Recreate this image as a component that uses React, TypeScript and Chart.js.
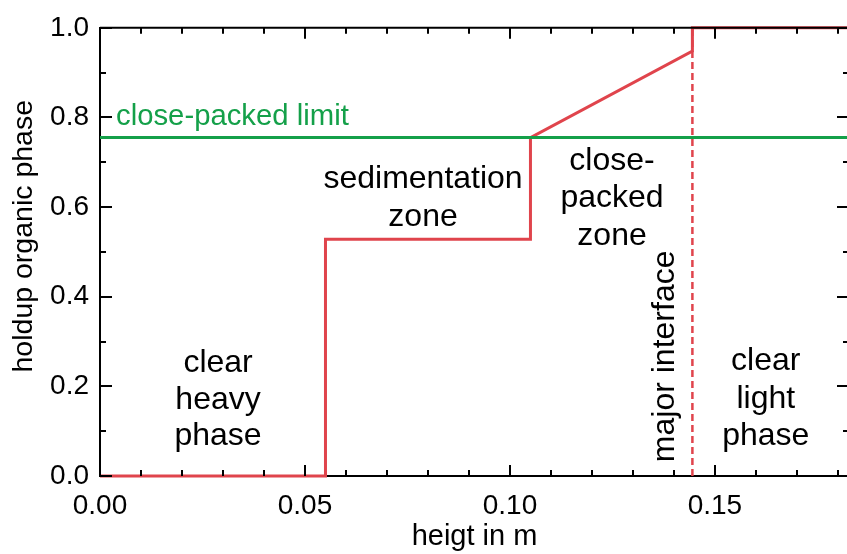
import React, { useEffect, useRef } from "react";
import { Chart, registerables } from "chart.js";

Chart.register(...registerables);

// ---- data ----
const X_MIN = 0;
const X_MAX = 0.1827;
const Y_MIN = 0;
const Y_MAX = 1.0;

const xTickValues = [0, 0.05, 0.1, 0.15];
const yTickValues = [0, 0.2, 0.4, 0.6, 0.8, 1.0];
const xMinorStep = 0.01;
const yMinorStep = 0.1;

const profileX = [0, 0.055, 0.055, 0.105, 0.105, 0.1445, 0.1445, 0.1827];
const profileY = [0, 0, 0.528, 0.528, 0.755, 0.948, 1.0, 1.0];

const interfaceX = [0.1445, 0.1445];
const interfaceY = [0, 1.0];

const limitX = [0, 0.1827];
const limitY = [0.755, 0.755];

const zoneLabels = [
  { lines: ["clear", "heavy", "phase"], x: 0.0288, y: [0.252, 0.17, 0.088] },
  { lines: ["sedimentation", "zone"], x: 0.0788, y: [0.662, 0.578] },
  { lines: ["close-", "packed", "zone"], x: 0.1249, y: [0.702, 0.62, 0.536] },
  { lines: ["clear", "light", "phase"], x: 0.1624, y: [0.256, 0.172, 0.088] },
];
const interfaceLabel = { text: "major interface", x: 0.1378, y: 0.267 };
const limitLabel = { text: "close-packed limit", x: 0.0039, y: 0.801 };
const yTitle = { text: "holdup organic phase", px: 24, y: 0.535 };

const RED = "#e0444c";
const GREEN = "#14a049";
const FONT = "'Liberation Sans', Arial, Helvetica, sans-serif";

const toPts = (xs: number[], ys: number[]) => xs.map((x, i) => ({ x, y: ys[i] }));

const framePlugin = {
  id: "frame",
  afterDraw(chart: any) {
    const { ctx, chartArea } = chart;
    const xs = chart.scales.x;
    const ys = chart.scales.y;
    ctx.save();
    ctx.strokeStyle = "#000";
    ctx.lineWidth = 2;
    ctx.beginPath();
    ctx.moveTo(chartArea.left, chartArea.top);
    ctx.lineTo(chartArea.right, chartArea.top);
    ctx.stroke();
    ctx.beginPath();
    ctx.moveTo(chartArea.right, chartArea.top);
    ctx.lineTo(chartArea.right, chartArea.bottom);
    ctx.stroke();
    const nX = Math.round((X_MAX - X_MIN) / xMinorStep);
    for (let i = 0; i <= nX; i++) {
      const v = X_MIN + i * xMinorStep;
      const major = i % 5 === 0;
      const len = major ? 11 : 6;
      const px = Math.round(xs.getPixelForValue(v));
      ctx.beginPath();
      ctx.moveTo(px, chartArea.bottom);
      ctx.lineTo(px, chartArea.bottom - len);
      ctx.moveTo(px, chartArea.top);
      ctx.lineTo(px, chartArea.top + len);
      ctx.stroke();
    }
    const nY = Math.round((Y_MAX - Y_MIN) / yMinorStep);
    for (let i = 0; i <= nY; i++) {
      const v = Y_MIN + i * yMinorStep;
      const major = i % 2 === 0;
      const len = major ? 12 : 6;
      const py = Math.round(ys.getPixelForValue(v));
      ctx.beginPath();
      ctx.moveTo(chartArea.left, py);
      ctx.lineTo(chartArea.left + len, py);
      ctx.moveTo(chartArea.right, py);
      ctx.lineTo(chartArea.right - len, py);
      ctx.stroke();
    }
    // y-axis title
    ctx.fillStyle = "#000";
    ctx.font = `28.5px ${FONT}`;
    ctx.textAlign = "center";
    ctx.textBaseline = "middle";
    ctx.save();
    ctx.translate(yTitle.px, ys.getPixelForValue(yTitle.y));
    ctx.rotate(-Math.PI / 2);
    ctx.fillText(yTitle.text, 0, 0);
    ctx.restore();
    ctx.restore();
  },
};

const labelPlugin = {
  id: "zoneLabels",
  afterDatasetsDraw(chart: any) {
    const { ctx } = chart;
    const xs = chart.scales.x;
    const ys = chart.scales.y;
    ctx.save();
    ctx.fillStyle = "#000";
    ctx.font = `32px ${FONT}`;
    ctx.textAlign = "center";
    ctx.textBaseline = "middle";
    zoneLabels.forEach((z) => {
      z.lines.forEach((t, i) => {
        ctx.fillText(t, xs.getPixelForValue(z.x), ys.getPixelForValue(z.y[i]));
      });
    });
    ctx.save();
    ctx.translate(xs.getPixelForValue(interfaceLabel.x), ys.getPixelForValue(interfaceLabel.y));
    ctx.rotate(-Math.PI / 2);
    ctx.fillText(interfaceLabel.text, 0, 0);
    ctx.restore();
    ctx.fillStyle = GREEN;
    ctx.font = `29.3px ${FONT}`;
    ctx.textAlign = "left";
    ctx.fillText(limitLabel.text, xs.getPixelForValue(limitLabel.x), ys.getPixelForValue(limitLabel.y));
    ctx.restore();
  },
};

export default function App() {
  const ref = useRef<HTMLCanvasElement>(null);
  useEffect(() => {
    const canvas = ref.current;
    if (!canvas) return;
    const chart = new Chart(canvas, {
      type: "scatter",
      data: {
        datasets: [
          {
            label: "close-packed limit",
            data: toPts(limitX, limitY),
            showLine: true,
            borderColor: GREEN,
            borderWidth: 3,
            pointRadius: 0,
            clip: false as any,
          },
          {
            label: "major interface",
            data: toPts(interfaceX, interfaceY),
            showLine: true,
            borderColor: RED,
            borderWidth: 2.5,
            borderDash: [7, 4],
            pointRadius: 0,
            clip: false as any,
          },
          {
            label: "holdup",
            data: toPts(profileX, profileY),
            showLine: true,
            borderColor: RED,
            borderWidth: 3,
            pointRadius: 0,
            clip: false as any,
          },
        ],
      },
      options: {
        animation: false,
        responsive: false,
        devicePixelRatio: 1,
        layout: { padding: { top: 23, right: 1, left: 0, bottom: 0 } },
        plugins: { legend: { display: false }, tooltip: { enabled: false } },
        scales: {
          x: {
            type: "linear",
            min: X_MIN,
            max: X_MAX,
            grid: { display: false, drawTicks: false },
            border: { display: true, color: "#000", width: 2 },
            afterBuildTicks: (s: any) => {
              s.ticks = xTickValues.map((v) => ({ value: v }));
            },
            afterFit: (s: any) => {
              s.height = 78;
            },
            ticks: {
              color: "#000",
              font: { family: FONT, size: 28 },
              padding: 13,
              maxRotation: 0,
              autoSkip: false,
              callback: (v: any) => Number(v).toFixed(2),
            },
            title: {
              display: true,
              text: "heigt in m",
              color: "#000",
              font: { family: FONT, size: 29, lineHeight: 1.1 },
              padding: { top: 0, bottom: 1 },
            },
          },
          y: {
            type: "linear",
            min: Y_MIN,
            max: Y_MAX,
            grid: { display: false, drawTicks: false },
            border: { display: true, color: "#000", width: 2 },
            afterBuildTicks: (s: any) => {
              s.ticks = yTickValues.map((v) => ({ value: v }));
            },
            afterFit: (s: any) => {
              s.width = 100;
            },
            ticks: {
              color: "#000",
              font: { family: FONT, size: 28 },
              padding: 11,
              autoSkip: false,
              callback: (v: any) => Number(v).toFixed(1),
            },
            title: { display: false },
          },
        },
      } as any,
      plugins: [framePlugin, labelPlugin],
    });
    return () => chart.destroy();
  }, []);
  return (
    <div
      style={{
        position: "fixed",
        left: 0,
        top: 0,
        width: 847,
        height: 554,
        overflow: "hidden",
        background: "#fff",
      }}
    >
      <canvas ref={ref} width={850} height={554} style={{ width: 850, height: 554, display: "block" }} />
    </div>
  );
}
